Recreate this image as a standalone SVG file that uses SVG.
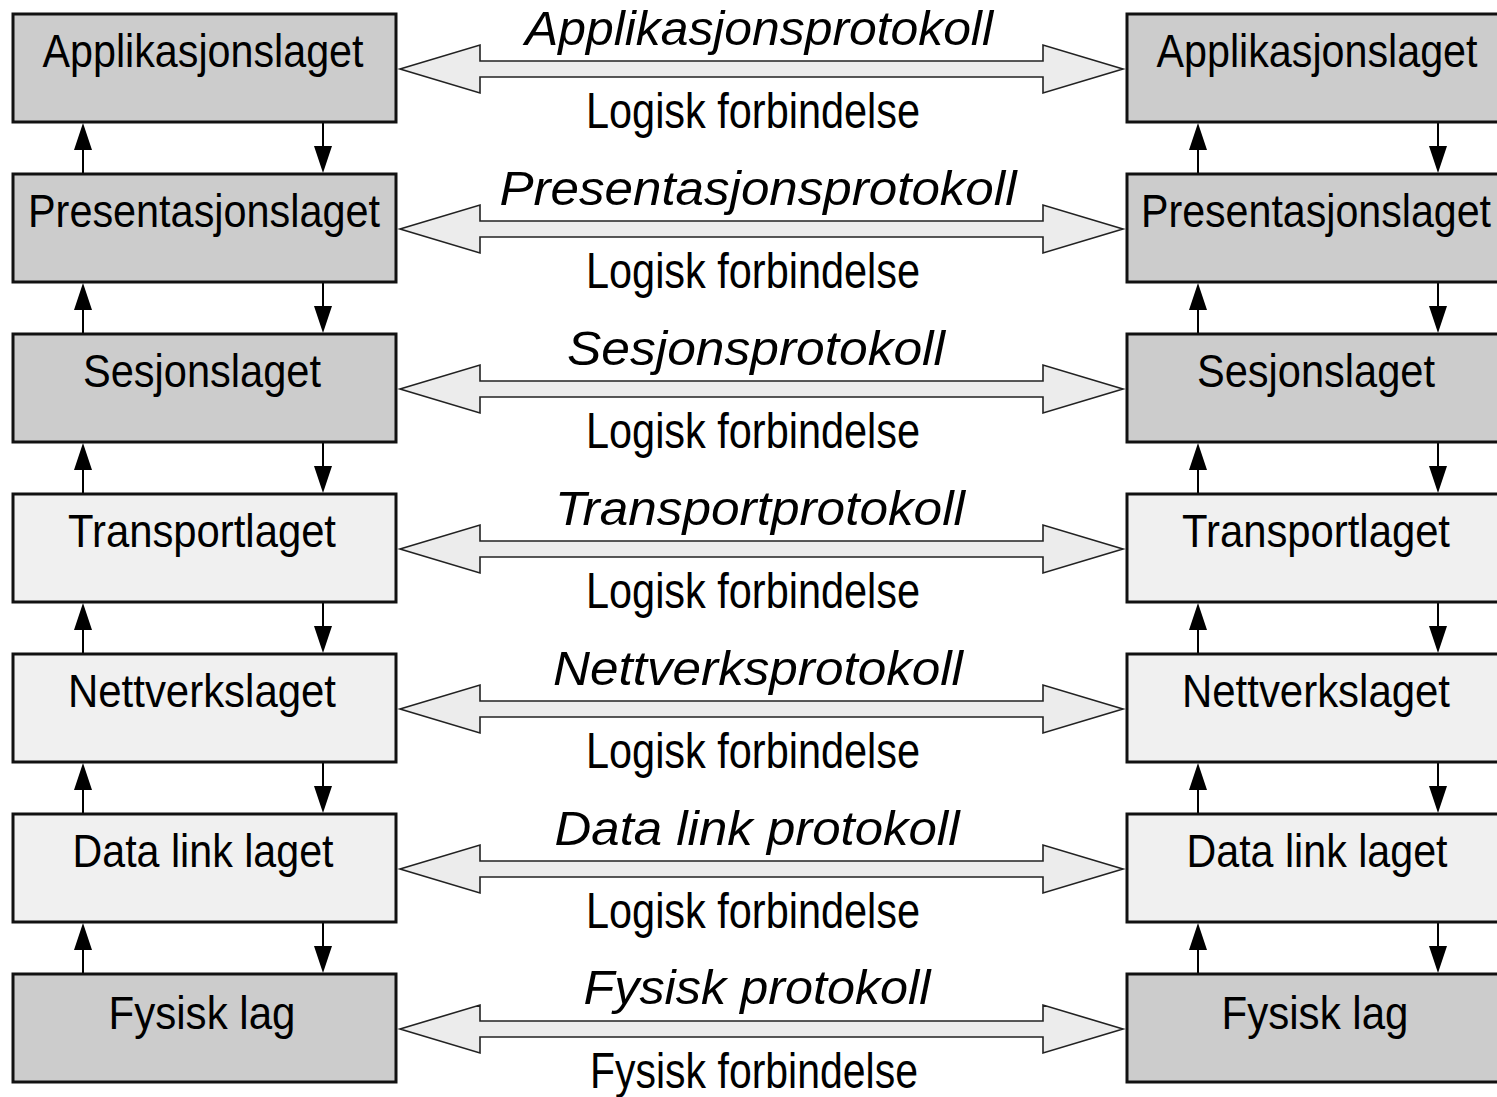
<svg xmlns="http://www.w3.org/2000/svg" width="1497" height="1097" viewBox="0 0 1497 1097">
<style>
.bg{fill:#ffffff}
.dark{fill:#cccccc;stroke:#111;stroke-width:3}
.light{fill:#f0f0f0;stroke:#111;stroke-width:3}
.lbl{font-family:"Liberation Sans",Arial,sans-serif;font-size:47px;fill:#000;text-anchor:middle}
.proto{font-family:"Liberation Sans",Arial,sans-serif;font-size:48px;font-style:italic;fill:#000;text-anchor:middle}
.conn{font-family:"Liberation Sans",Arial,sans-serif;font-size:50px;fill:#000;text-anchor:middle}
.dbl{fill:#ececec;stroke:#222;stroke-width:1.6;stroke-linejoin:miter}
.vline{stroke:#000;stroke-width:2;fill:none}
.vhead{fill:#000}
</style>
<defs>
<path id="darrow" class="dbl" d="M400,69 L480,45 L480,61 L1043,61 L1043,45 L1123,69 L1043,93 L1043,77 L480,77 L480,93 Z"/>
<g id="varrows">
<line class="vline" x1="83" y1="174" x2="83" y2="130"/>
<path class="vhead" d="M83,123 L92,150 L74,150 Z"/>
<line class="vline" x1="323" y1="122" x2="323" y2="165"/>
<path class="vhead" d="M323,173 L314,146 L332,146 Z"/>
<line class="vline" x1="1198" y1="174" x2="1198" y2="130"/>
<path class="vhead" d="M1198,123 L1207,150 L1189,150 Z"/>
<line class="vline" x1="1438" y1="122" x2="1438" y2="165"/>
<path class="vhead" d="M1438,173 L1429,146 L1447,146 Z"/>
</g>
</defs>
<rect class="bg" x="0" y="0" width="1497" height="1097"/>

<g id="connectors">
<use href="#darrow"/>
<use href="#darrow" y="160"/>
<use href="#darrow" y="320"/>
<use href="#darrow" y="480"/>
<use href="#darrow" y="640"/>
<use href="#darrow" y="800"/>
<use href="#darrow" y="960"/>
<use href="#varrows"/>
<use href="#varrows" y="160"/>
<use href="#varrows" y="320"/>
<use href="#varrows" y="480"/>
<use href="#varrows" y="640"/>
<use href="#varrows" y="800"/>
<text class="proto" x="759" y="45" textLength="468" lengthAdjust="spacingAndGlyphs">Applikasjonsprotokoll</text>
<text class="conn" x="753" y="128" textLength="334" lengthAdjust="spacingAndGlyphs">Logisk forbindelse</text>
<text class="proto" x="758" y="205" textLength="517" lengthAdjust="spacingAndGlyphs">Presentasjonsprotokoll</text>
<text class="conn" x="753" y="288" textLength="334" lengthAdjust="spacingAndGlyphs">Logisk forbindelse</text>
<text class="proto" x="756" y="365" textLength="378" lengthAdjust="spacingAndGlyphs">Sesjonsprotokoll</text>
<text class="conn" x="753" y="448" textLength="334" lengthAdjust="spacingAndGlyphs">Logisk forbindelse</text>
<text class="proto" x="760" y="525" textLength="410" lengthAdjust="spacingAndGlyphs">Transportprotokoll</text>
<text class="conn" x="753" y="608" textLength="334" lengthAdjust="spacingAndGlyphs">Logisk forbindelse</text>
<text class="proto" x="758" y="685" textLength="410" lengthAdjust="spacingAndGlyphs">Nettverksprotokoll</text>
<text class="conn" x="753" y="768" textLength="334" lengthAdjust="spacingAndGlyphs">Logisk forbindelse</text>
<text class="proto" x="757" y="845" textLength="405" lengthAdjust="spacingAndGlyphs">Data link protokoll</text>
<text class="conn" x="753" y="928" textLength="334" lengthAdjust="spacingAndGlyphs">Logisk forbindelse</text>
<text class="proto" x="757" y="1004" textLength="347" lengthAdjust="spacingAndGlyphs">Fysisk protokoll</text>
<text class="conn" x="754" y="1088" textLength="328" lengthAdjust="spacingAndGlyphs">Fysisk forbindelse</text>
</g>

<g id="left-app"><rect class="dark" x="13" y="14" width="383" height="108"/><text class="lbl" x="203" y="67" textLength="321" lengthAdjust="spacingAndGlyphs">Applikasjonslaget</text></g>
<g id="left-pres"><rect class="dark" x="13" y="174" width="383" height="108"/><text class="lbl" x="204" y="227" textLength="352" lengthAdjust="spacingAndGlyphs">Presentasjonslaget</text></g>
<g id="left-ses"><rect class="dark" x="13" y="334" width="383" height="108"/><text class="lbl" x="202" y="387" textLength="238" lengthAdjust="spacingAndGlyphs">Sesjonslaget</text></g>
<g id="left-trans"><rect class="light" x="13" y="494" width="383" height="108"/><text class="lbl" x="202" y="547" textLength="268" lengthAdjust="spacingAndGlyphs">Transportlaget</text></g>
<g id="left-nett"><rect class="light" x="13" y="654" width="383" height="108"/><text class="lbl" x="202" y="707" textLength="268" lengthAdjust="spacingAndGlyphs">Nettverkslaget</text></g>
<g id="left-data"><rect class="light" x="13" y="814" width="383" height="108"/><text class="lbl" x="203" y="867" textLength="261" lengthAdjust="spacingAndGlyphs">Data link laget</text></g>
<g id="left-fys"><rect class="dark" x="13" y="974" width="383" height="108"/><text class="lbl" x="202" y="1029" textLength="187" lengthAdjust="spacingAndGlyphs">Fysisk lag</text></g>

<g id="right-app"><rect class="dark" x="1127" y="14" width="373" height="108"/><text class="lbl" x="1317" y="67" textLength="321" lengthAdjust="spacingAndGlyphs">Applikasjonslaget</text></g>
<g id="right-pres"><rect class="dark" x="1127" y="174" width="373" height="108"/><text class="lbl" x="1316" y="227" textLength="350" lengthAdjust="spacingAndGlyphs">Presentasjonslaget</text></g>
<g id="right-ses"><rect class="dark" x="1127" y="334" width="373" height="108"/><text class="lbl" x="1316" y="387" textLength="238" lengthAdjust="spacingAndGlyphs">Sesjonslaget</text></g>
<g id="right-trans"><rect class="light" x="1127" y="494" width="373" height="108"/><text class="lbl" x="1316" y="547" textLength="268" lengthAdjust="spacingAndGlyphs">Transportlaget</text></g>
<g id="right-nett"><rect class="light" x="1127" y="654" width="373" height="108"/><text class="lbl" x="1316" y="707" textLength="268" lengthAdjust="spacingAndGlyphs">Nettverkslaget</text></g>
<g id="right-data"><rect class="light" x="1127" y="814" width="373" height="108"/><text class="lbl" x="1317" y="867" textLength="261" lengthAdjust="spacingAndGlyphs">Data link laget</text></g>
<g id="right-fys"><rect class="dark" x="1127" y="974" width="373" height="108"/><text class="lbl" x="1315" y="1029" textLength="187" lengthAdjust="spacingAndGlyphs">Fysisk lag</text></g>
</svg>
